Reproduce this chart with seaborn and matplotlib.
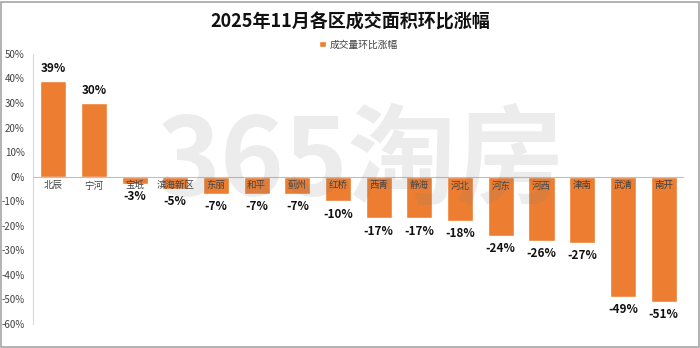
import matplotlib
matplotlib.use("Agg")
import matplotlib.pyplot as plt
import seaborn as sns
import pandas as pd
from matplotlib.patches import Rectangle

districts = ["北辰", "宁河", "宝坻", "滨海新区", "东丽", "和平", "蓟州", "红桥",
             "西青", "静海", "河北", "河东", "河西", "津南", "武清", "南开"]
changes = [39, 30, -3, -5, -7, -7, -7, -10, -17, -17, -18, -24, -26, -27, -49, -51]
yticks = [50, 40, 30, 20, 10, 0, -10, -20, -30, -40, -50, -60]
title = "2025年11月各区成交面积环比涨幅"
series_name = "成交量环比涨幅"

sns.set_theme(style="white")
plt.rcParams['font.family'] = ['Noto Sans CJK SC', 'DejaVu Sans']
plt.rcParams['axes.unicode_minus'] = False

df = pd.DataFrame({"district": districts, "change": changes})
color = "#ED7D31"

fig = plt.figure(figsize=(7, 3.48), dpi=100)
ax = fig.add_axes([0.047, 0.069, 0.93, 0.776])

sns.barplot(data=df, x="district", y="change", color=color, width=0.64,
            ax=ax, saturation=1, label=series_name)

ax.set_ylim(-60, 50)
ax.set_xlim(-0.5, len(districts) - 0.5)
ax.set_yticks(yticks)
ax.set_yticklabels([f"{v}%" for v in yticks], fontsize=7, color="#404040")
ax.tick_params(axis='y', length=0, pad=6)
ax.set_xticks([])
ax.set_xlabel("")
ax.set_ylabel("")
for s in ["top", "right", "bottom"]:
    ax.spines[s].set_visible(False)
ax.spines["left"].set_color("#d9d9d9")
ax.spines["left"].set_linewidth(0.8)
ax.axhline(0, color="#bfbfbf", lw=0.8, zorder=3)

# watermark
fig.text(0.515, 0.53, "365淘房", fontsize=78, fontweight="bold", color="#808080",
         alpha=0.15, ha="center", va="center", zorder=5)

for i, (d, v) in enumerate(zip(districts, changes)):
    ax.text(i, -1.8, d, ha="center", va="top", fontsize=6.8, color="#404040", zorder=6)
    if v >= 0:
        ax.text(i, v + 2.5, f"{v}%", ha="center", va="bottom", fontsize=8.5,
                fontweight="bold", color="#111111")
    else:
        ax.text(i, v - 2.6, f"{v}%", ha="center", va="top", fontsize=8.5,
                fontweight="bold", color="#111111")

fig.suptitle(title, x=0.5, y=0.965, fontsize=13, fontweight="bold", color="#111111")
leg = ax.legend(loc="center", bbox_to_anchor=(0.5, 1.035), frameon=False,
                fontsize=7, handlelength=0.7, handleheight=0.7, handletextpad=0.4)
for t in leg.get_texts():
    t.set_color("#404040")

fig.patches.append(Rectangle((0.002, 0.004), 0.996, 0.99, transform=fig.transFigure,
                             fill=False, edgecolor="#a6a6a6", lw=1.2))
fig.savefig("out.png", dpi=100, facecolor="white")
